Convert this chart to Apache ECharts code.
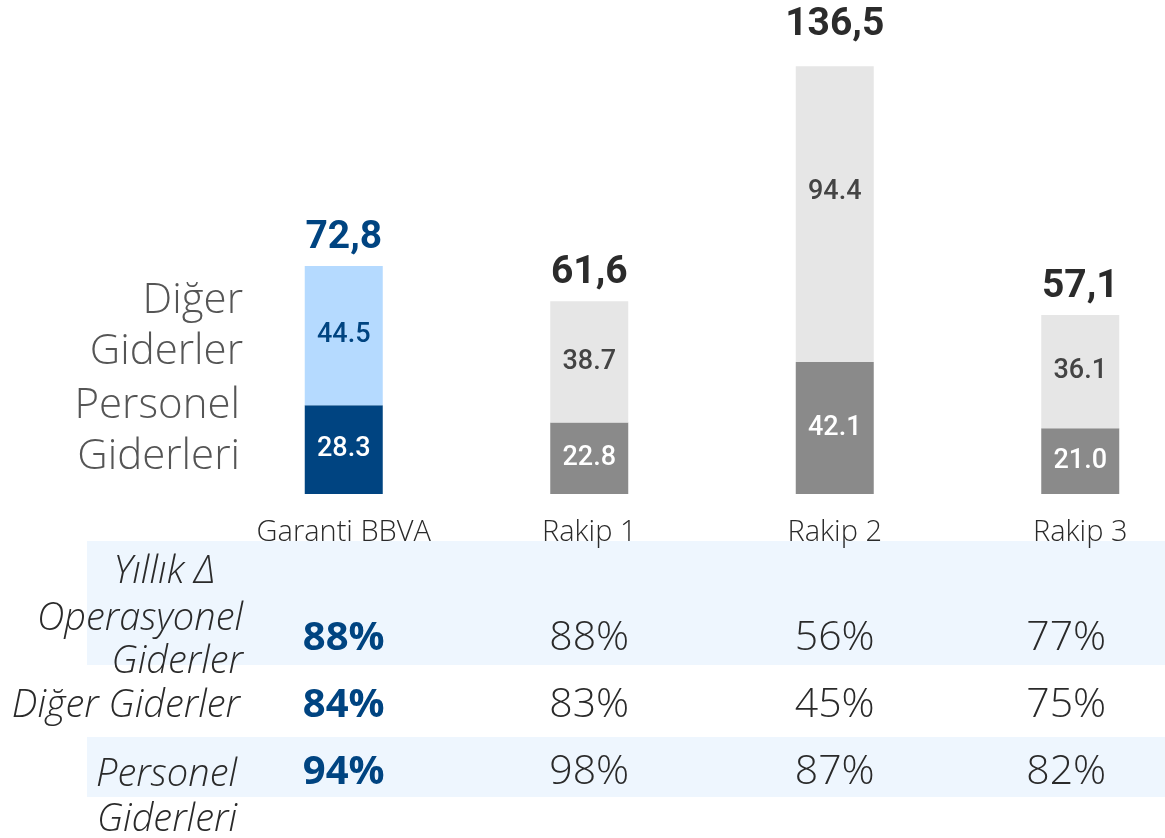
<!DOCTYPE html>
<html><head><meta charset="utf-8">
<script src="https://cdn.jsdelivr.net/npm/echarts@6/dist/echarts.min.js"></script>
<style>html,body{margin:0;padding:0;background:#fff}#c{width:1165px;height:838px}</style>
</head><body><div id="c"></div>
<script>
const categories = ['Garanti BBVA', 'Rakip 1', 'Rakip 2', 'Rakip 3'];
const personel = [28.3, 22.8, 42.1, 21.0];
const diger = [44.5, 38.7, 94.4, 36.1];
const totals = [72.8, 61.6, 136.5, 57.1];
const tableRows = ['Operasyonel Giderler', 'Diğer Giderler', 'Personel Giderleri'];
const rowOperasyonel = [88, 88, 56, 77];
const rowDiger = [84, 83, 45, 75];
const rowPersonel = [94, 98, 87, 82];

const NAVY = '#004481', LBLUE = '#b5daff', DGREY = '#8a8a8a', LGREY = '#e6e6e6';
const BOLDF = 'Roboto';
const LIGHTF = 'Open Sans';

const chart = echarts.init(document.getElementById('c'), null, {renderer: 'canvas'});

const lowerData = personel.map((v, i) => ({
  value: v,
  itemStyle: {color: i === 0 ? NAVY : DGREY},
  label: {color: '#fff'}
}));
const upperData = diger.map((v, i) => ({
  value: v,
  itemStyle: {color: i === 0 ? LBLUE : LGREY},
  label: {color: i === 0 ? NAVY : '#444', offset: i === 2 ? [0, -22] : [0, 0]}
}));
const totalData = totals.map((v, i) => ({
  value: [i, v],
  label: {color: i === 0 ? NAVY : '#2b2b2b', distance: i === 2 ? 22 : 8}
}));

const rowsAll = [rowOperasyonel, rowDiger, rowPersonel];
const tableData = [];
rowsAll.forEach((row, r) => row.forEach((v, c) => {
  tableData.push({
    value: [c, r, v],
    label: c === 0 ? {fontFamily: LIGHTF, fontWeight: 'bold', color: NAVY, fontSize: 40}
                   : {fontFamily: LIGHTF, fontWeight: 300, color: '#2a2a2a', fontSize: 41,
                      offset: c === 3 ? [-14, 0] : [0, 0]}
  });
}));

const hdr = {fontFamily: LIGHTF, fontWeight: 300, fontStyle: 'italic', fontSize: 38, fill: '#2a2a2a', textAlign: 'right', textVerticalAlign: 'middle'};
const leg = {fontFamily: LIGHTF, fontWeight: 300, fontSize: 42, fill: '#555', textAlign: 'right', textVerticalAlign: 'middle', lineHeight: 51};

chart.setOption({
  animation: false,
  grid: [
    {left: 221, width: 982, top: 24, height: 470, outerBoundsMode: 'none', containLabel: false},
    {left: 221, width: 982, top: 605, height: 201, outerBoundsMode: 'none', containLabel: false}
  ],
  xAxis: [
    {type: 'category', data: categories, gridIndex: 0,
     axisLine: {show: false}, axisTick: {show: false},
     axisLabel: {margin: 24, fontFamily: LIGHTF, fontWeight: 300, fontSize: 29, color: '#2a2a2a'}},
    {type: 'category', data: categories, gridIndex: 1, show: false}
  ],
  yAxis: [
    {type: 'value', min: 0, max: 150, gridIndex: 0, show: false},
    {type: 'category', data: tableRows, gridIndex: 1, inverse: true, show: false}
  ],
  graphic: [
    {type: 'rect', z: -10, shape: {x: 87, y: 541, width: 1078, height: 124}, style: {fill: '#eef6fe'}},
    {type: 'rect', z: -10, shape: {x: 87, y: 737, width: 1078, height: 60}, style: {fill: '#eef6fe'}},
    {type: 'text', x: 243, y: 327, style: Object.assign({text: 'Diğer\nGiderler'}, leg)},
    {type: 'text', x: 240, y: 432, style: Object.assign({text: 'Personel\nGiderleri'}, leg)},
    {type: 'text', x: 215, y: 572, style: Object.assign({text: 'Yıllık Δ'}, hdr)},
    {type: 'text', x: 243, y: 641, style: Object.assign({text: 'Operasyonel\nGiderler', lineHeight: 43}, hdr)},
    {type: 'text', x: 240, y: 706, style: Object.assign({text: 'Diğer Giderler'}, hdr)},
    {type: 'text', x: 237, y: 798, style: Object.assign({text: 'Personel\nGiderleri', lineHeight: 45}, hdr)}
  ],
  series: [
    {type: 'bar', stack: 's', barWidth: 78, xAxisIndex: 0, yAxisIndex: 0, data: lowerData,
     label: {show: true, position: 'inside', fontFamily: BOLDF, fontWeight: 500, fontSize: 27,
             formatter: p => p.value.toFixed(1)}},
    {type: 'bar', stack: 's', barWidth: 78, xAxisIndex: 0, yAxisIndex: 0, data: upperData,
     label: {show: true, position: 'inside', fontFamily: BOLDF, fontWeight: 500, fontSize: 27,
             formatter: p => p.value.toFixed(1)}},
    {type: 'scatter', xAxisIndex: 0, yAxisIndex: 0, symbolSize: 0, itemStyle: {opacity: 1}, data: totalData,
     label: {show: true, position: 'top', fontFamily: BOLDF, fontWeight: 'bold', fontSize: 39,
             formatter: p => p.value[1].toFixed(1).replace('.', ',')}},
    {type: 'scatter', xAxisIndex: 1, yAxisIndex: 1, symbolSize: 0, itemStyle: {opacity: 1}, data: tableData,
     label: {show: true, position: 'inside', formatter: p => p.value[2] + '%'}}
  ]
});
</script></body></html>
